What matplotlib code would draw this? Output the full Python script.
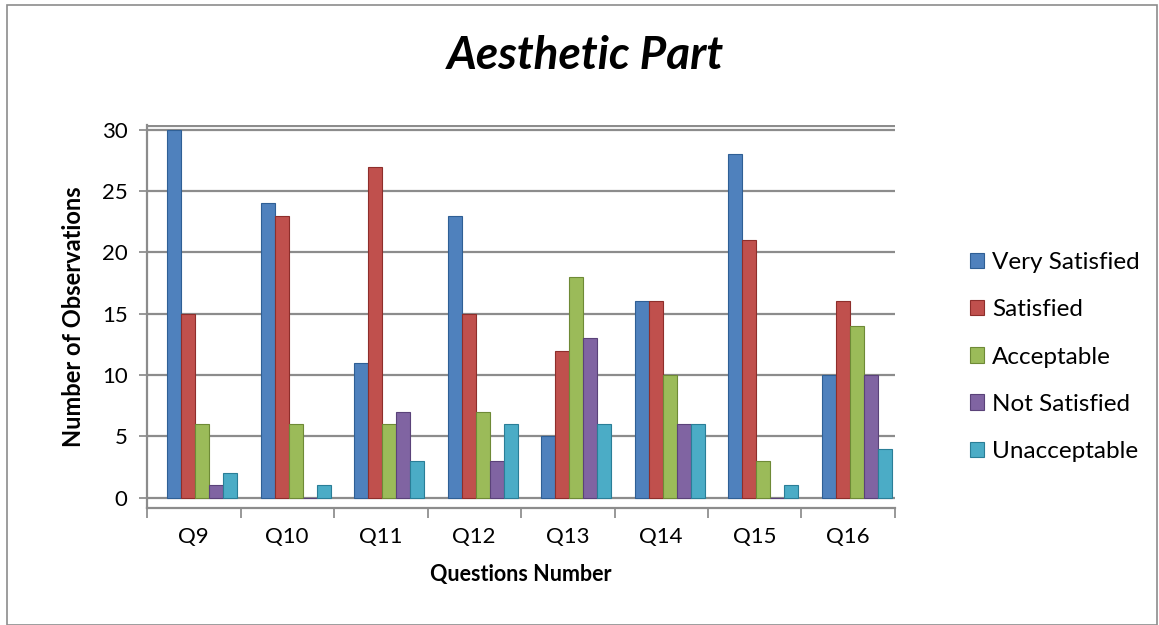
import matplotlib
matplotlib.use("Agg")
import matplotlib.pyplot as plt
import matplotlib.patches as mpatches
import numpy as np

categories = ["Q9", "Q10", "Q11", "Q12", "Q13", "Q14", "Q15", "Q16"]
series_names = ["Very Satisfied", "Satisfied", "Acceptable", "Not Satisfied", "Unacceptable"]
very_satisfied = [30, 24, 11, 23, 5, 16, 28, 10]
satisfied = [15, 23, 27, 15, 12, 16, 21, 16]
acceptable = [6, 6, 6, 7, 18, 10, 3, 14]
not_satisfied = [1, 0, 7, 3, 13, 6, 0, 10]
unacceptable = [2, 1, 3, 6, 6, 6, 1, 4]
yticks = [0, 5, 10, 15, 20, 25, 30]

series = [very_satisfied, satisfied, acceptable, not_satisfied, unacceptable]
colors = ["#4F81BD", "#C0504D", "#9BBB59", "#8064A2", "#4BACC6"]
edges = ["#2F5F95", "#8E2E2B", "#6E8A36", "#5A4279", "#2A7E97"]

plt.rcParams['font.family'] = ['Lato', 'DejaVu Sans']

fig = plt.figure(figsize=(11.59, 6.25), dpi=100)
ax = fig.add_axes([147/1159, (625-508)/625, 748/1159, (508-125)/625])

n = len(categories)
x = np.arange(n)
bw = 0.15
offset0 = -2 * bw + 0.09
for i, (vals, c, ec, name) in enumerate(zip(series, colors, edges, series_names)):
    ax.bar(x + offset0 + i * bw, vals, width=bw, color=c, edgecolor=ec,
           linewidth=0.8, label=name, zorder=3)

ax.set_xlim(-0.5, n - 0.5)
ax.set_ylim(-0.85, 30.4)
ax.set_yticks(yticks)
ax.set_yticklabels([str(t) for t in yticks], fontsize=16)
ax.set_xticks(x)
ax.set_xticklabels(categories, fontsize=16)
ax.tick_params(axis='x', length=0, pad=14)
ax.tick_params(axis='y', length=6, color="#868686", width=1.2, pad=8)

# category separator ticks
ax.set_xticks(np.arange(n + 1) - 0.5, minor=True)
ax.tick_params(axis='x', which='minor', length=7, color="#868686", width=1.2, direction='out')

for t in yticks:
    ax.axhline(t, color="#8C8C8C", linewidth=1.6, zorder=1)
ax.axhline(30.35, color="#8C8C8C", linewidth=1.6, zorder=1)

for s in ["top", "right"]:
    ax.spines[s].set_visible(False)
ax.spines["left"].set_color("#8C8C8C")
ax.spines["left"].set_linewidth(1.6)
ax.spines["bottom"].set_color("#8C8C8C")
ax.spines["bottom"].set_linewidth(1.6)

ax.set_ylabel("Number of Observations", fontsize=17, fontweight='bold', labelpad=12)
ax.set_xlabel("Questions Number", fontsize=15.5, fontweight='bold', labelpad=12)

fig.text(585/1159, 1 - 56/625, "Aesthetic Part", fontsize=33, fontweight='bold',
         fontstyle='italic', ha='center', va='center')

fig.legend(loc='center left', bbox_to_anchor=(948/1159, 1 - 357/625), frameon=False,
           fontsize=17.5, handlelength=0.6, handleheight=0.6, handletextpad=0.3,
           labelspacing=1.08)

fig.patches.append(mpatches.Rectangle((7/1159, 0), 1150/1159, 620/625,
                                      transform=fig.transFigure, fill=False,
                                      edgecolor="#8C8C8C", linewidth=1.2))

fig.savefig("out.png", dpi=100)
